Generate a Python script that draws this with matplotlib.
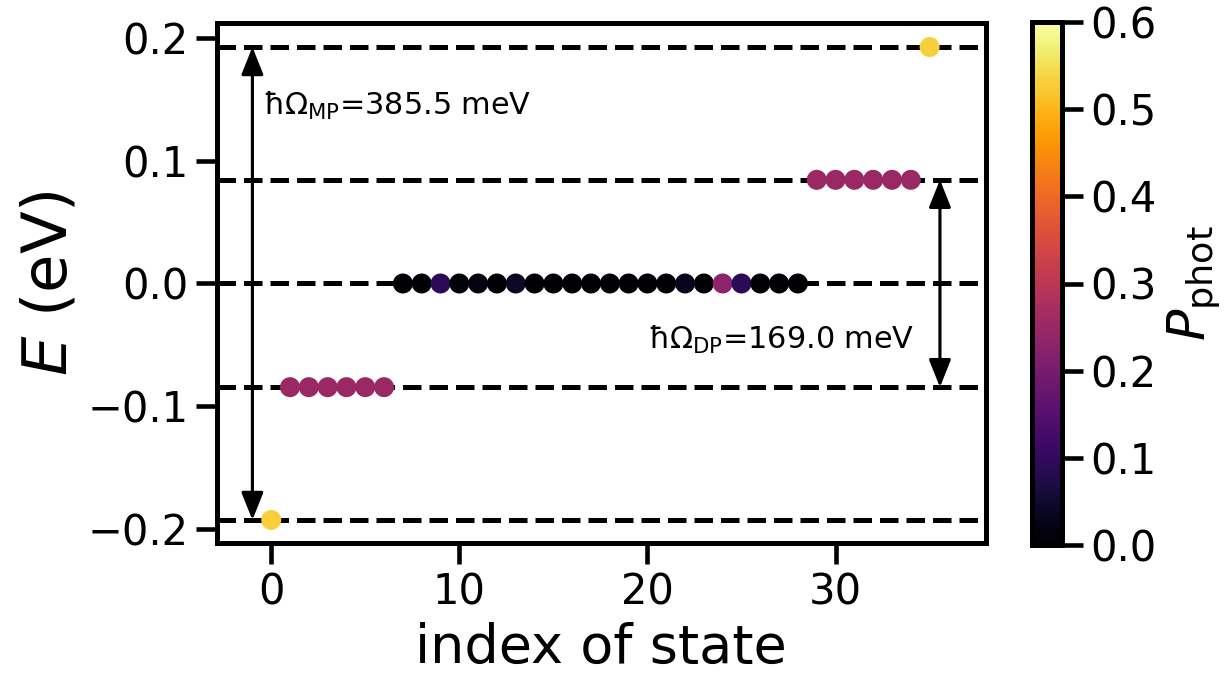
import numpy as np
import matplotlib
matplotlib.use("Agg")
import matplotlib.pyplot as plt

# energies of the levels (eV)
E_MP = 0.3855
E_DP = 0.1690
levels = [-E_MP / 2, -E_DP / 2, 0.0, E_DP / 2, E_MP / 2]

# state index, energy and photon fraction
state_idx = list(range(36))
energy = ([-E_MP / 2] + [-E_DP / 2] * 6 + [0.0] * 22 + [E_DP / 2] * 6 + [E_MP / 2])
p_phot = ([0.53]
          + [0.25] * 6
          + [0.0, 0.0, 0.09, 0.01, 0.02, 0.0, 0.04,
             0.0, 0.0, 0.0, 0.0, 0.0, 0.0, 0.0, 0.0,
             0.03, 0.0, 0.23, 0.09, 0.0, 0.0, 0.0]
          + [0.25] * 6
          + [0.53])

plt.rcParams['font.family'] = ['DejaVu Sans']
fig = plt.figure(figsize=(1231 / 150, 675 / 150), dpi=150)
ax = fig.add_axes([0.176, 0.1956, 0.625, 0.771])
cax = fig.add_axes([0.838, 0.193, 0.025, 0.774])

for lv in levels:
    ax.axhline(lv, color='k', ls='--', lw=2.4, zorder=1)

sc = ax.scatter(state_idx, energy, c=p_phot, cmap='inferno', vmin=0, vmax=0.6,
                s=92, linewidths=0, zorder=3)

arrow = dict(arrowstyle='<|-|>,head_length=0.45,head_width=0.18', color='k',
             lw=1.5, shrinkA=0, shrinkB=0, mutation_scale=25)
ax.annotate('', xy=(-1.0, E_MP / 2), xytext=(-1.0, -E_MP / 2), arrowprops=arrow)
ax.annotate('', xy=(35.55, E_DP / 2), xytext=(35.55, -E_DP / 2), arrowprops=arrow)
ax.text(-0.45, 0.145, 'ħΩ$_\\mathrm{MP}$=385.5 meV', fontsize=14.5, va='center', ha='left')
ax.text(34.2, -0.046, 'ħΩ$_\\mathrm{DP}$=169.0 meV', fontsize=14.5, va='center', ha='right')

ax.set_xlim(-2.9, 38.0)
ax.set_ylim(-0.2115, 0.2127)
ax.set_xticks([0, 10, 20, 30])
ax.set_yticks([-0.2, -0.1, 0.0, 0.1, 0.2])
ax.set_xlabel('index of state', fontsize=26)
ax.set_ylabel('$E$ (eV)', fontsize=30)
ax.tick_params(labelsize=20, width=2.2, length=10)
for sp in ax.spines.values():
    sp.set_linewidth(2.4)

cb = fig.colorbar(sc, cax=cax)
cb.set_ticks([0.0, 0.1, 0.2, 0.3, 0.4, 0.5, 0.6])
cb.set_label('$P_\\mathrm{phot}$', fontsize=25)
cb.ax.tick_params(labelsize=20, width=2.2, length=10)
cb.outline.set_linewidth(2.4)

fig.savefig('out.png', dpi=150)
